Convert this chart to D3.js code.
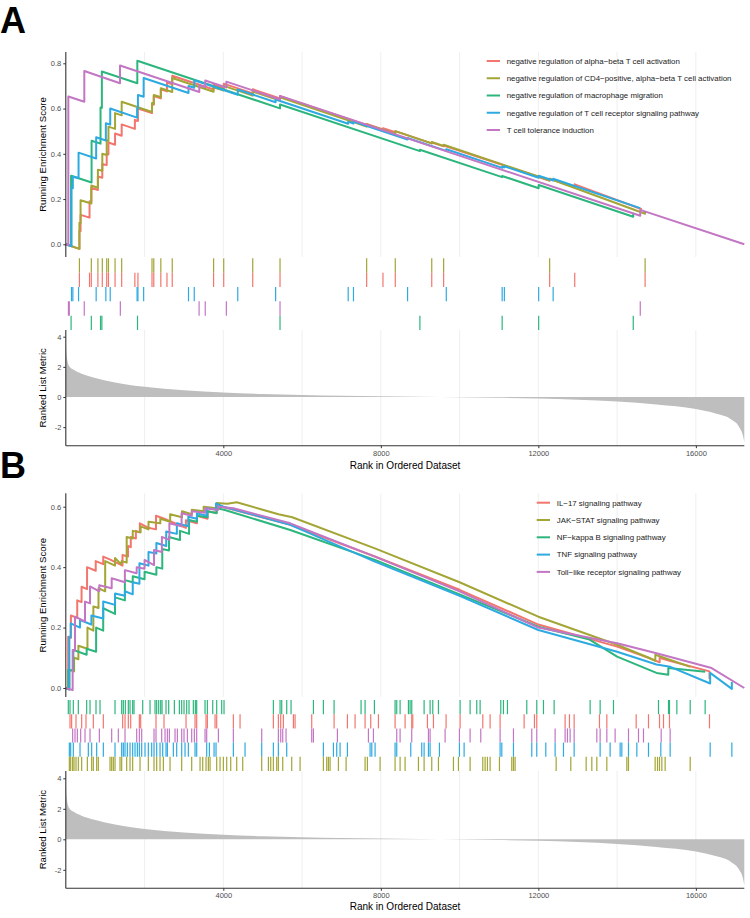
<!DOCTYPE html>
<html>
<head>
<meta charset="utf-8">
<script src="https://cdn.jsdelivr.net/npm/d3@7"></script>
<style>
  body { margin: 0; background: #fff; }
  text { font-family: "Liberation Sans", Arial, sans-serif; }
</style>
</head>
<body>
<svg id="chart" width="750" height="918"></svg>
<script>
// ---------------- data ----------------
var nGenes = 17230;
var rankTicks = [4000, 8000, 12000, 16000];
var gridRanks = [2000, 4000, 6000, 8000, 10000, 12000, 14000, 16000];

// ranked list metric (rank, value), same ordered list in both panels
var metricRank  = [1, 10, 30, 60, 100, 200, 400, 700, 1000, 1500, 2000, 3000, 4000, 5000, 6000, 7000, 8000, 9000, 10000, 11000, 12000, 13000, 14000, 15000, 16000, 16500, 16900, 17100, 17200, 17230];
var metricValue = [4.0, 3.2, 2.6, 2.2, 2.0, 1.8, 1.55, 1.3, 1.1, 0.85, 0.68, 0.45, 0.3, 0.2, 0.13, 0.08, 0.05, 0.02, -0.01, -0.05, -0.1, -0.18, -0.3, -0.5, -0.8, -1.1, -1.5, -2.0, -2.6, -3.0];

// panel A
var namesA = ["negative regulation of alpha\u2212beta T cell activation",
              "negative regulation of CD4\u2212positive, alpha\u2212beta T cell activation",
              "negative regulation of macrophage migration",
              "negative regulation of T cell receptor signaling pathway",
              "T cell tolerance induction"];
var rowOrderA = [1, 0, 3, 4, 2];   // tick rows, top to bottom

var hitsA = [
  [346, 603, 648, 815, 927, 1039, 1083, 1251, 1419, 1754, 1832, 2189, 2234, 2413, 2569, 2703, 3753, 4010, 4747, 5440, 7640, 8054, 8367, 9293, 9595, 12287, 12924, 14711],
  [346, 648, 815, 927, 1039, 1083, 1251, 1419, 2189, 2234, 2413, 2703, 3753, 4010, 4747, 5440, 7640, 8367, 9293, 9595, 12287, 14711],
  [134, 648, 882, 916, 1821, 5440, 8992, 11081, 12008, 14410],
  [145, 179, 324, 771, 1017, 1128, 1810, 1832, 1977, 3116, 3262, 4367, 5328, 7171, 7305, 8679, 9662, 11081, 11137, 12008, 12376],
  [67, 89, 469, 1385, 3385, 3541, 4077, 5440, 14588]
];

var esA = [
  [[1,0],[346,-0.02],[346,0.06],[375,0.058],[375,0.13],[603,0.118],[603,0.19],[648,0.187],[648,0.25],[815,0.24],[815,0.30],[927,0.294],[927,0.355],[1039,0.35],[1039,0.40],[1083,0.397],[1083,0.45],[1251,0.44],[1251,0.49],[1419,0.48],[1419,0.53],[1754,0.51],[1754,0.55],[1832,0.545],[1832,0.60],[2189,0.58],[2189,0.62],[2234,0.617],[2234,0.655],[2413,0.645],[2413,0.685],[2569,0.676],[2569,0.715],[2703,0.707],[2703,0.745],[3753,0.684],[3753,0.705],[4010,0.69],[4010,0.71],[4747,0.667],[4747,0.685],[5440,0.645],[5440,0.655],[7640,0.527],[7640,0.532],[8054,0.508],[8054,0.513],[8367,0.495],[8367,0.50],[9293,0.446],[9293,0.45],[9595,0.433],[9595,0.437],[12287,0.281],[12287,0.29],[12924,0.253],[12924,0.265],[14627,0.155]],
  [[1,0],[346,-0.02],[346,0.095],[375,0.093],[375,0.195],[648,0.18],[648,0.26],[815,0.25],[815,0.33],[927,0.325],[927,0.40],[1039,0.395],[1039,0.46],[1083,0.457],[1083,0.52],[1251,0.51],[1251,0.58],[1419,0.57],[1419,0.63],[2189,0.585],[2189,0.625],[2234,0.622],[2234,0.66],[2413,0.65],[2413,0.69],[2703,0.673],[2703,0.735],[3753,0.674],[3753,0.694],[4010,0.68],[4010,0.70],[4747,0.657],[4747,0.675],[5440,0.635],[5440,0.65],[7640,0.52],[7640,0.53],[8367,0.488],[8367,0.50],[9293,0.446],[9293,0.452],[9595,0.435],[9595,0.44],[12287,0.283],[12287,0.29],[14711,0.135],[14711,0.145]],
  [[1,0],[134,-0.008],[134,0.303],[655,0.273],[655,0.458],[882,0.445],[882,0.605],[916,0.603],[916,0.764],[1816,0.712],[1816,0.811],[5440,0.601],[5440,0.618],[8992,0.412],[8992,0.418],[11081,0.297],[11081,0.302],[12008,0.248],[12008,0.262],[14410,0.122],[14410,0.14]],
  [[1,0],[145,-0.008],[145,0.25],[179,0.248],[179,0.30],[324,0.292],[324,0.405],[771,0.379],[771,0.473],[1017,0.459],[1017,0.535],[1128,0.529],[1128,0.60],[1810,0.56],[1810,0.60],[1832,0.599],[1832,0.66],[1977,0.652],[1977,0.735],[3116,0.669],[3116,0.70],[3262,0.692],[3262,0.725],[4367,0.661],[4367,0.684],[5328,0.628],[5328,0.64],[7171,0.533],[7171,0.542],[7305,0.534],[7305,0.543],[8679,0.463],[8679,0.47],[9662,0.413],[9662,0.42],[11081,0.338],[11081,0.343],[11137,0.34],[11137,0.345],[12008,0.294],[12008,0.303],[12376,0.282],[12376,0.29],[14585,0.16]],
  [[1,0],[64,-0.004],[64,0.653],[470,0.630],[470,0.766],[1377,0.712],[1377,0.79],[3390,0.673],[3390,0.703],[3541,0.694],[3541,0.724],[4077,0.693],[4077,0.719],[5440,0.640],[5440,0.656],[14588,0.126],[14588,0.152],[17230,0]]
];

// panel B
var namesB = ["IL\u221217 signaling pathway",
              "JAK\u2212STAT signaling pathway",
              "NF\u2212kappa B signaling pathway",
              "TNF signaling pathway",
              "Toll\u2212like receptor signaling pathway"];
var rowOrderB = [2, 0, 4, 3, 1];

var hitsB = [
  [107, 148, 259, 403, 513, 699, 953, 1444, 1504, 1588, 1648, 1868, 1902, 2291, 2494, 3053, 3282, 3324, 3561, 3595, 3790, 3832, 4255, 4425, 5271, 5398, 5458, 5525, 5780, 5822, 6245, 6813, 7151, 7346, 7600, 7744, 7939, 8362, 8616, 8785, 8811, 9183, 9336, 9657, 10013, 10589, 10775, 11029, 11639, 11901, 11960, 12680, 12790, 12909, 13552, 13739, 14484, 14797, 15077, 15178, 15330, 16346],
  [90, 124, 174, 208, 259, 318, 403, 547, 657, 699, 784, 826, 1123, 1165, 1207, 1250, 1377, 1419, 1546, 1631, 1698, 1885, 2096, 2240, 2308, 2393, 2478, 2647, 2943, 3197, 3409, 3477, 3561, 3620, 3663, 3832, 3917, 4001, 4086, 4188, 4340, 4493, 4975, 5145, 5204, 5271, 5356, 5398, 5509, 5737, 5949, 6541, 6626, 6669, 6711, 6923, 7118, 7600, 7659, 7981, 8362, 8489, 8616, 8955, 9099, 9293, 9463, 9844, 9971, 10267, 10589, 10648, 10707, 10775, 11012, 11325, 11368, 11410, 12452, 12824, 13214, 13358, 13485, 13739, 14247, 14289, 14966, 15026, 15077, 15136, 15220, 15856],
  [64, 107, 191, 318, 530, 615, 767, 869, 1250, 1419, 1461, 1512, 1588, 1631, 1698, 1732, 1953, 2139, 2266, 2308, 2359, 2410, 2444, 2545, 2613, 2757, 2884, 2943, 3002, 3070, 3129, 3239, 3290, 3324, 3536, 3595, 3731, 3832, 3959, 4018, 5271, 5441, 5483, 5610, 5720, 6288, 6541, 6813, 7498, 7600, 7837, 8362, 8404, 8489, 8701, 8743, 8785, 9099, 9251, 9319, 9463, 10013, 10267, 10436, 10521, 11046, 11114, 11215, 11706, 11960, 12130, 12401, 13315, 13569, 13908, 15051, 15305, 15330, 15517, 15856, 16236],
  [90, 124, 191, 361, 572, 657, 784, 953, 1250, 1419, 1461, 1504, 1563, 1631, 1698, 1758, 1817, 1868, 1927, 2012, 2096, 2181, 2240, 2308, 2393, 2461, 2545, 2579, 2731, 2816, 2943, 3028, 3112, 3282, 3324, 3578, 3646, 3765, 3815, 4255, 4552, 4975, 5271, 5398, 5610, 6541, 6796, 6880, 6965, 7151, 7727, 7770, 7854, 8362, 8404, 8760, 9039, 9099, 9209, 9251, 9488, 9996, 10115, 11029, 11072, 11368, 11833, 11960, 12189, 12426, 12638, 12909, 13569, 13823, 14077, 14120, 14289, 14501, 14797, 15110, 15347, 16363, 16914],
  [174, 234, 293, 378, 488, 615, 852, 1165, 1334, 1504, 1800, 1868, 1927, 2240, 2291, 2435, 2520, 2579, 2630, 2774, 2833, 2943, 3002, 3087, 3197, 3265, 3324, 3536, 3578, 3875, 4255, 4975, 5398, 5458, 5509, 5593, 6245, 6288, 6897, 7685, 7812, 8404, 8489, 8785, 9209, 9251, 9632, 9996, 10267, 10538, 11029, 11368, 11833, 11960, 12426, 12680, 12739, 12807, 12909, 13485, 13569, 13739, 13950, 14289, 14543, 14670, 15119, 15347]
];

var esB = [
  [[1,0],[60,-0.003],[60,0.17],[130,0.166],[130,0.24],[290,0.232],[290,0.29],[400,0.284],[400,0.335],[540,0.327],[540,0.40],[760,0.388],[760,0.42],[950,0.41],[950,0.435],[1130,0.425],[1440,0.405],[1440,0.44],[1580,0.435],[1580,0.47],[1650,0.466],[1650,0.50],[1780,0.495],[1780,0.52],[1880,0.515],[1880,0.545],[2100,0.53],[2290,0.525],[2290,0.57],[2500,0.56],[3050,0.53],[3050,0.555],[3330,0.545],[3330,0.57],[3600,0.56],[3600,0.585],[3830,0.58],[3830,0.605],[4255,0.59],[5700,0.54],[7850,0.435],[10000,0.325],[12000,0.21],[14000,0.137],[14800,0.10],[15080,0.085],[15080,0.10],[15330,0.09],[16346,0.055],[16346,0.03]],
  [[1,0],[90,-0.005],[90,0.06],[210,0.055],[210,0.10],[320,0.095],[320,0.14],[550,0.13],[550,0.2],[700,0.19],[700,0.27],[830,0.265],[830,0.33],[1000,0.32],[1000,0.42],[1250,0.405],[1250,0.43],[1400,0.41],[1420,0.42],[1546,0.415],[1546,0.50],[1700,0.495],[1700,0.52],[1900,0.515],[1900,0.535],[2100,0.525],[2100,0.55],[2400,0.545],[2400,0.56],[2650,0.55],[2650,0.575],[2950,0.565],[2950,0.585],[3200,0.575],[3200,0.59],[3500,0.585],[3500,0.60],[3830,0.595],[3830,0.612],[4100,0.61],[4340,0.615],[5000,0.59],[5400,0.575],[5750,0.565],[7850,0.462],[10000,0.35],[12000,0.236],[14000,0.143],[14800,0.10],[14970,0.09],[14970,0.11],[15860,0.07]],
  [[1,0],[64,-0.003],[64,0.06],[191,0.058],[191,0.126],[530,0.11],[530,0.13],[770,0.12],[770,0.2],[950,0.19],[950,0.264],[1250,0.245],[1250,0.30],[1500,0.29],[1500,0.357],[1700,0.35],[1700,0.37],[2000,0.36],[2000,0.385],[2300,0.375],[2300,0.40],[2450,0.395],[2450,0.46],[2620,0.455],[2620,0.50],[2900,0.49],[2900,0.52],[3130,0.51],[3130,0.556],[3330,0.55],[3330,0.57],[3600,0.565],[3600,0.585],[3830,0.578],[3830,0.595],[4018,0.59],[5700,0.523],[7850,0.424],[10000,0.31],[12000,0.203],[13300,0.16],[14000,0.104],[15000,0.05],[15300,0.044],[15300,0.066],[16236,0.054]],
  [[1,0],[90,-0.005],[90,0.17],[124,0.168],[124,0.214],[360,0.2],[360,0.225],[650,0.21],[650,0.24],[950,0.23],[950,0.286],[1250,0.275],[1250,0.313],[1500,0.305],[1500,0.32],[1700,0.31],[1700,0.35],[1870,0.345],[1870,0.413],[2100,0.405],[2100,0.45],[2300,0.445],[2300,0.48],[2550,0.47],[2550,0.518],[2820,0.51],[2820,0.545],[3110,0.535],[3110,0.567],[3330,0.56],[3330,0.578],[3580,0.57],[3580,0.595],[3815,0.59],[3815,0.611],[4000,0.60],[5700,0.54],[7850,0.418],[10000,0.305],[12000,0.192],[14000,0.12],[15000,0.078],[15350,0.07],[16363,0.015],[16363,0.05],[16914,-0.003],[16914,0.02]],
  [[1,0],[174,-0.007],[174,0.126],[234,0.123],[234,0.236],[488,0.22],[488,0.286],[615,0.28],[615,0.336],[850,0.32],[850,0.34],[1165,0.33],[1165,0.363],[1500,0.35],[1500,0.39],[1800,0.38],[1800,0.40],[2000,0.395],[2000,0.424],[2240,0.407],[2240,0.457],[2440,0.45],[2440,0.50],[2630,0.49],[2630,0.545],[2940,0.535],[2940,0.578],[3200,0.57],[3200,0.585],[3540,0.58],[3540,0.595],[3875,0.59],[3875,0.60],[4255,0.595],[5700,0.545],[7850,0.435],[10000,0.32],[12000,0.20],[14000,0.148],[15000,0.115],[16400,0.066],[17230,0]]
];

// ---------------- drawing ----------------
var palette = ["#F3766E", "#A3A534", "#2CB67D", "#2DAAE1", "#C376C4"];
var tickColor = "#4D4D4D", gridColor = "#EBEBEB", axisColor = "#333333";

var svg = d3.select("#chart");
var x = d3.scaleLinear().domain([0, nGenes]).range([65.8, 744.3]);

var metric = metricRank.map(function(r, i) { return [r, metricValue[i]]; });
var intFmt = function(d) { return String(d); };   // plain hyphen minus, no thousands comma

var panels = [
  { label: "A", labelY: 33, esTop: 52, esBottom: 257, esDom: [0, 0.8], esRng: [244.3, 63.3],
    esTicks: [0, 0.2, 0.4, 0.6, 0.8], hitTop: 258.3, hitBottom: 330, rankTop: 330, rankBottom: 445.7,
    mRng: [397, 336.7], titleY: 468.5, legX: 486.7, legY: 61, legStep: 17.25,
    names: namesA, hits: hitsA, es: esA, rows: rowOrderA },
  { label: "B", labelY: 478, esTop: 493.3, esBottom: 697, esDom: [0, 0.6], esRng: [688, 506.7],
    esTicks: [0, 0.2, 0.4, 0.6], hitTop: 700, hitBottom: 771, rankTop: 771, rankBottom: 888.3,
    mRng: [839.3, 778.3], titleY: 910, legX: 536.7, legY: 502.7, legStep: 17.3,
    names: namesB, hits: hitsB, es: esB, rows: rowOrderB }
];

panels.forEach(function(p) {
  var g = svg.append("g");
  var yES = d3.scaleLinear().domain(p.esDom).range(p.esRng);
  var yM = d3.scaleLinear().domain([0, 4]).range(p.mRng);

  g.append("text").attr("x", 0).attr("y", p.labelY)
    .attr("font-size", 36).attr("font-weight", "bold").text(p.label);

  // grid in ES and ranked panels
  [[p.esTop, p.esBottom], [p.rankTop, p.rankBottom]].forEach(function(b) {
    g.selectAll(null).data(gridRanks).enter().append("line")
      .attr("x1", d => x(d)).attr("x2", d => x(d))
      .attr("y1", b[0]).attr("y2", b[1])
      .attr("stroke", gridColor).attr("stroke-width", 0.8);
  });

  // ES lines
  var line = d3.line().x(d => x(d[0])).y(d => yES(d[1]));
  g.selectAll(null).data(p.es).enter().append("path")
    .attr("d", line).attr("fill", "none")
    .attr("stroke", (d, i) => palette[i]).attr("stroke-width", 2)
    .attr("stroke-linejoin", "round");

  // ES y axis
  var esAxis = d3.axisLeft(yES).tickValues(p.esTicks).tickFormat(d3.format(".1f")).tickSize(2.5).tickPadding(2);
  var ax1 = g.append("g").attr("transform", "translate(65.8,0)").call(esAxis);
  ax1.select(".domain").attr("d", "M0," + p.esTop + "V" + p.esBottom);

  g.append("text")
    .attr("transform", "translate(46," + ((p.esTop + p.esBottom) / 2) + ") rotate(-90)")
    .attr("text-anchor", "middle").attr("font-size", 9.6).text("Running Enrichment Score");

  // legend
  p.names.forEach(function(n, i) {
    var yy = p.legY + i * p.legStep;
    g.append("line").attr("x1", p.legX).attr("x2", p.legX + 13.3)
      .attr("y1", yy).attr("y2", yy)
      .attr("stroke", palette[i]).attr("stroke-width", 2);
    g.append("text").attr("x", p.legX + 20).attr("y", yy + 2.8)
      .attr("font-size", 7.9).attr("fill", "#1a1a1a").text(n);
  });

  // hit ticks
  var rowH = (p.hitBottom - p.hitTop) / 5;
  p.rows.forEach(function(setIdx, r) {
    g.selectAll(null).data(p.hits[setIdx]).enter().append("line")
      .attr("x1", d => x(d)).attr("x2", d => x(d))
      .attr("y1", p.hitTop + r * rowH).attr("y2", p.hitTop + (r + 1) * rowH)
      .attr("stroke", palette[setIdx]).attr("stroke-width", 1.2);
  });

  // ranked list metric
  var area = d3.area().curve(d3.curveMonotoneX)
    .x(d => x(d[0])).y0(yM(0)).y1(d => yM(d[1]));
  g.append("path").datum(metric).attr("d", area).attr("fill", "#BEBEBE");

  var mAxis = d3.axisLeft(yM).tickValues([-2, 0, 2, 4]).tickFormat(intFmt).tickSize(2.5).tickPadding(2);
  var ax2 = g.append("g").attr("transform", "translate(65.8,0)").call(mAxis);
  ax2.select(".domain").attr("d", "M0," + p.rankTop + "V" + p.rankBottom);

  var xAxis = d3.axisBottom(x).tickValues(rankTicks).tickFormat(intFmt).tickSize(2.5).tickPadding(2);
  var ax3 = g.append("g").attr("transform", "translate(0," + p.rankBottom + ")").call(xAxis);
  ax3.select(".domain").attr("d", "M65.8,0H744.3");

  [ax1, ax2, ax3].forEach(function(a) {
    a.select(".domain").attr("stroke", axisColor).attr("stroke-width", 1.1);
    a.selectAll(".tick line").attr("stroke", axisColor);
    a.selectAll(".tick text").attr("fill", tickColor).attr("font-size", 7.5)
      .attr("font-family", "Liberation Sans, Arial, sans-serif");
  });

  g.append("text")
    .attr("transform", "translate(46," + ((p.rankTop + p.rankBottom) / 2) + ") rotate(-90)")
    .attr("text-anchor", "middle").attr("font-size", 9.6).text("Ranked List Metric");

  g.append("text").attr("x", 405).attr("y", p.titleY)
    .attr("text-anchor", "middle").attr("font-size", 10).text("Rank in Ordered Dataset");
});
</script>
</body>
</html>
